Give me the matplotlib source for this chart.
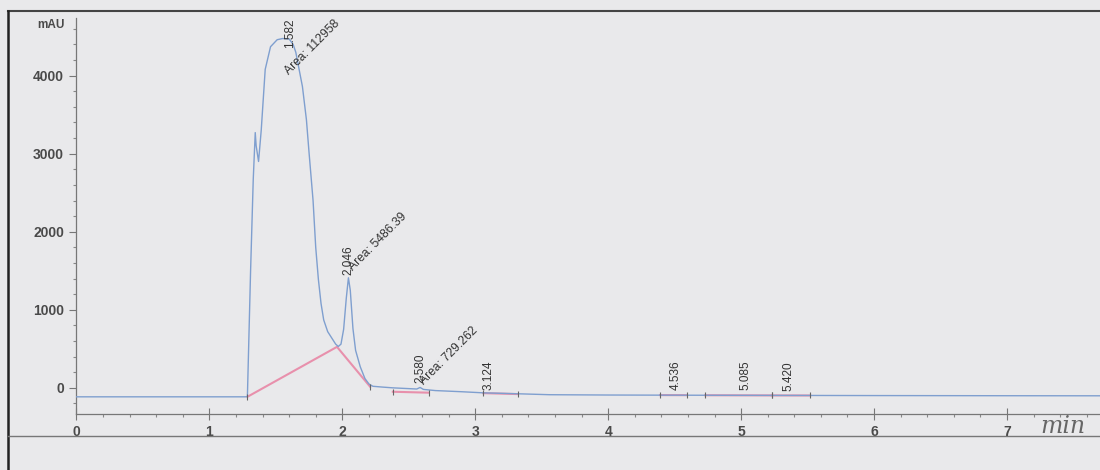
import matplotlib
matplotlib.use("Agg")
import matplotlib.pyplot as plt
from matplotlib.lines import Line2D
from matplotlib.ticker import MultipleLocator

# signal trace (min, mAU)
time_min = [0.0, 1.27, 1.286, 1.31, 1.33, 1.345, 1.352, 1.37, 1.39, 1.42, 1.46, 1.51,
            1.55, 1.60, 1.63, 1.65, 1.70, 1.73, 1.75, 1.78, 1.80, 1.82, 1.84, 1.86,
            1.89, 1.92, 1.95, 1.97, 1.99, 2.01, 2.03, 2.046, 2.06, 2.08, 2.10, 2.135,
            2.17, 2.20, 2.23, 2.30, 2.38, 2.50, 2.56, 2.585, 2.61, 2.70, 2.90, 3.06,
            3.30, 3.56, 4.0, 5.0, 6.0, 7.0, 7.75]
signal_mau = [-115, -115, -112, 1500, 2670, 3270, 3100, 2900, 3300, 4080, 4370, 4460,
              4475, 4470, 4400, 4300, 3860, 3435, 3010, 2400, 1800, 1390, 1080, 870,
              720, 640, 560, 530, 560, 750, 1150, 1410, 1250, 760, 480, 270,
              120, 50, 20, 10, 0, -10, -15, 5, -20, -35, -50, -64,
              -75, -88, -92, -96, -99, -101, -102]

# integration baselines (pink)
baseline_t = [[1.286, 1.96, 2.21], [2.38, 2.65], [3.06, 3.32],
              [4.39, 4.59], [4.73, 5.23], [5.23, 5.52]]
baseline_y = [[-115, 525, 13], [-50, -62], [-68, -80],
              [-93, -94], [-95, -97], [-97, -98]]

peak_rt = [1.582, 2.046, 2.580, 3.124, 4.536, 5.085, 5.420]
peak_height = [4470, 1410, 5, -64, -92, -96, -97]
rt_labels = ["1.582", "2.046", "2.580", "3.124", "4.536", "5.085", "5.420"]
area_labels = {0: "Area: 112958", 1: "Area: 5486.39", 2: "Area: 729.262"}

y_ticks = [0, 1000, 2000, 3000, 4000]
x_ticks = [0, 1, 2, 3, 4, 5, 6, 7]

plt.rcParams["font.family"] = ["Liberation Sans", "DejaVu Sans"]

fig = plt.figure(figsize=(11, 4.7), dpi=100, facecolor="#e9e9eb")
ax = fig.add_axes([0.0695, 0.12, 0.9305, 0.842])
ax.set_facecolor("none")

ax.plot(time_min, signal_mau, color="#7f9fcf", lw=1.0, zorder=3)
for bt, by in zip(baseline_t, baseline_y):
    ax.plot(bt, by, color="#e890ac", lw=1.5, zorder=2)
    ax.plot([bt[0], bt[-1]], [by[0], by[-1]], ls="none", marker="|",
            ms=4, mew=0.8, color="#666666", zorder=4)

ax.set_xlim(0.0, 7.7)
ax.set_ylim(-330, 4740)

# retention time labels (vertical) and area labels (diagonal)
rt_offsets = [(2.5, -6.5), (0, 2), (0.5, 3.3), (-2.5, 2), (-3, 3.5), (-5, 3.5), (-6, 3.5)]
for i, (rt, h, lab) in enumerate(zip(peak_rt, peak_height, rt_labels)):
    ax.annotate(lab, (rt, h), xytext=rt_offsets[i], textcoords="offset points",
                rotation=90, ha="center", va="bottom", fontsize=8.5, color="#333333",
                zorder=5)
area_offsets = {0: (3.4, -27.8), 1: (5, 3.6), 2: (5, 0)}
for i, lab in area_labels.items():
    ax.annotate(lab, (peak_rt[i], peak_height[i]), xytext=area_offsets[i],
                textcoords="offset points", rotation=45, rotation_mode="anchor",
                ha="left", va="bottom", fontsize=8.7, color="#333333", zorder=5)

for side in ("top", "right"):
    ax.spines[side].set_visible(False)
for side in ("left", "bottom"):
    ax.spines[side].set_color("#777777")
    ax.spines[side].set_linewidth(0.9)

ax.set_yticks(y_ticks)
ax.set_xticks(x_ticks)
ax.yaxis.set_minor_locator(MultipleLocator(200))
ax.xaxis.set_minor_locator(MultipleLocator(0.2))
ax.tick_params(axis="both", which="major", direction="out", length=5, width=0.8,
               color="#777777", labelcolor="#4a4a4a", labelsize=10)
ax.tick_params(axis="y", which="major", pad=4)
ax.tick_params(axis="x", which="major", direction="inout", length=8, pad=4)
ax.tick_params(axis="both", which="minor", direction="out", length=2.5, width=0.8,
               color="#888888")
for lab in ax.get_xticklabels() + ax.get_yticklabels():
    lab.set_fontweight("bold")

ax.text(-0.012, 0.982, "mAU", transform=ax.transAxes, ha="right", va="center",
        fontsize=8.5, fontweight="bold", color="#4a4a4a")
fig.text(0.946, 0.093, "min", ha="left", va="center", fontsize=17,
         family="DejaVu Serif", style="italic", color="#666666")

# scanned page frame
fig.add_artist(Line2D([0.007, 1.0], [0.977, 0.977], color="#444444", lw=1.5))
fig.add_artist(Line2D([0.007, 0.007], [0.0, 0.977], color="#222222", lw=1.8))
fig.add_artist(Line2D([0.007, 1.0], [0.072, 0.072], color="#777777", lw=1.0))

fig.savefig("out.png", dpi=100, facecolor=fig.get_facecolor())
